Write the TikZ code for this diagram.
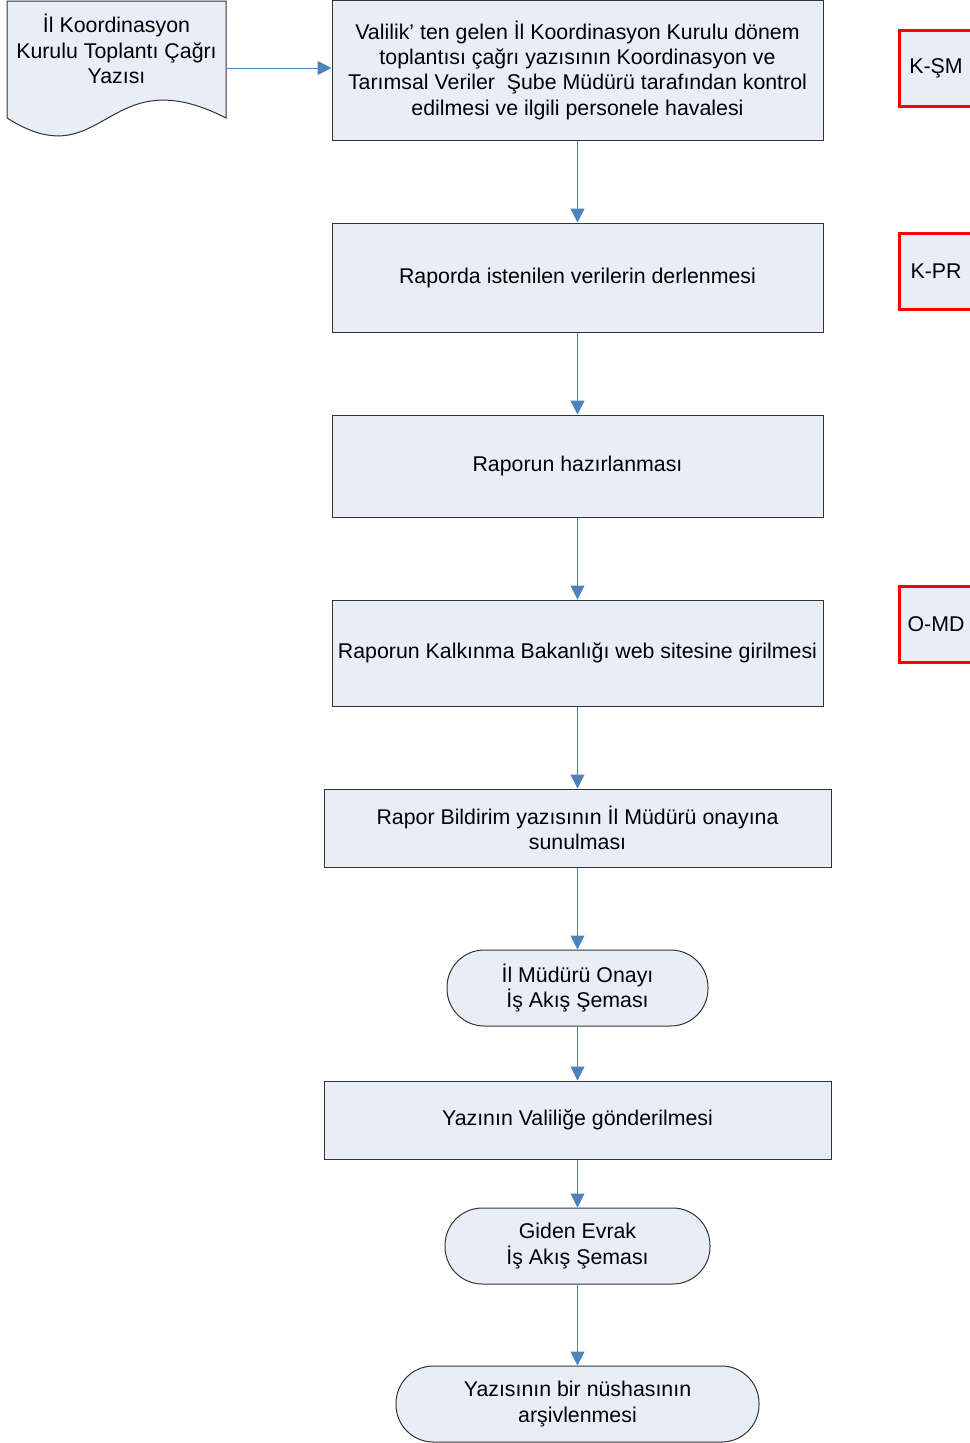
\documentclass[tikz,border=0pt]{standalone}
\usepackage{fontspec}
\setmainfont{Liberation Sans}
\usetikzlibrary{arrows.meta}
\definecolor{kutumavi}{RGB}{232,238,247}
\definecolor{okmavi}{RGB}{79,129,189}
\begin{document}
\begin{tikzpicture}[
    x=0.75pt, y=-0.75pt,
    islem/.style={
      draw=black!80,
      fill=kutumavi,
      line width=0.75pt,
      minimum width=368.25pt,
      align=center,
      inner sep=2pt,
      font=\fontsize{16}{19}\selectfont
    },
    genis/.style={
      islem,
      minimum width=380.25pt,
      minimum height=58.5pt
    },
    uc/.style={
      islem,
      rounded corners=28pt,
      minimum height=57pt
    },
    sorumlu/.style={
      draw=red,
      fill=kutumavi,
      line width=2.25pt,
      minimum width=55.5pt,
      minimum height=57pt,
      inner sep=1pt,
      font=\fontsize{16}{19}\selectfont
    },
    akis/.style={
      draw=okmavi,
      line width=0.75pt,
      -{Triangle[length=10.5pt,width=10.5pt]}
    }
  ]
    \useasboundingbox (0,0) rectangle (970,1443);

    \draw[draw=black!80, fill=kutumavi, line width=0.75pt]
      (7,1) -- (226,1) -- (226,118) .. controls (105,56) and (105,180) .. (7,118) -- cycle;
    \node[align=center, font=\fontsize{16}{19}\selectfont] (cagri) at (116.5,49)
      {İl Koordinasyon\\Kurulu Toplantı Çağrı\\Yazısı};
    \coordinate (cagricikis) at (226,68);

    \node[islem, minimum height=105pt] (valilik) at (577.5,70)
      {Valilik’ ten gelen İl Koordinasyon Kurulu dönem\\toplantısı çağrı yazısının Koordinasyon ve\\Tarımsal Veriler\ \ Şube Müdürü tarafından kontrol\\edilmesi ve ilgili personele havalesi};
    \node[islem, minimum height=81.75pt] (derleme) at (577.5,277.5)
      {Raporda istenilen verilerin derlenmesi};
    \node[islem, minimum height=76.5pt] (hazirlama) at (577.5,466)
      {Raporun hazırlanması};
    \node[islem, minimum height=79.5pt] (giris) at (577.5,653)
      {Raporun Kalkınma Bakanlığı web sitesine girilmesi};
    \node[genis] (bildirim) at (577.5,828)
      {Rapor Bildirim yazısının İl Müdürü onayına\\sunulması};
    \node[uc, minimum width=195.75pt] (onay) at (577.5,988)
      {İl Müdürü Onayı\\İş Akış Şeması};
    \node[genis] (gonderme) at (577.5,1120)
      {Yazının Valiliğe gönderilmesi};
    \node[uc, minimum width=198.75pt] (evrak) at (577.5,1246)
      {Giden Evrak\\İş Akış Şeması};
    \node[uc, minimum width=272.25pt] (arsiv) at (577.5,1404)
      {Yazısının bir nüshasının\\arşivlenmesi};

    \node[sorumlu] (ksm) at (936,68) {K-ŞM};
    \node[sorumlu] (kpr) at (936,271) {K-PR};
    \node[sorumlu] (omd) at (936,624) {O-MD};

    \draw[akis] (cagricikis) -- (valilik.west |- cagricikis);
    \draw[akis] (valilik) -- (derleme);
    \draw[akis] (derleme) -- (hazirlama);
    \draw[akis] (hazirlama) -- (giris);
    \draw[akis] (giris) -- (bildirim);
    \draw[akis] (bildirim) -- (onay);
    \draw[akis] (onay) -- (gonderme);
    \draw[akis] (gonderme) -- (evrak);
    \draw[akis] (evrak) -- (arsiv);
  \end{tikzpicture}
\end{document}
